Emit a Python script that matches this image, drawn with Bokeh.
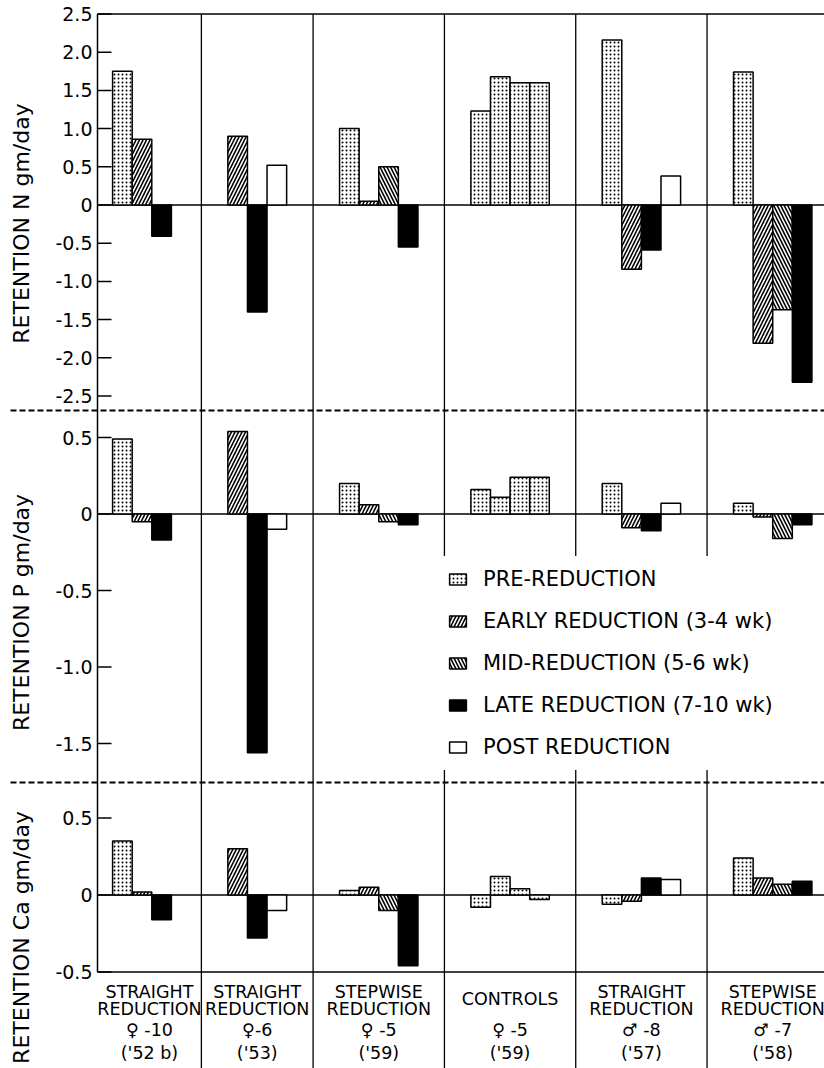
import math
from bokeh.plotting import figure
from bokeh.models import Range1d, Legend, LegendItem
from bokeh.core.properties import value
from bokeh.embed import file_html
from bokeh.resources import INLINE

# ---------------- data ----------------
phases = ["pre", "early", "mid", "late", "post"]
phase_labels = ["PRE-REDUCTION", "EARLY REDUCTION (3-4 wk)", "MID-REDUCTION (5-6 wk)",
                "LATE REDUCTION (7-10 wk)", "POST REDUCTION"]

group_line1 = ["STRAIGHT", "STRAIGHT", "STEPWISE", "", "STRAIGHT", "STEPWISE"]
group_line2 = ["REDUCTION", "REDUCTION", "REDUCTION", "", "REDUCTION", "REDUCTION"]
group_controls = ["", "", "", "CONTROLS", "", ""]
group_subject = ["\u2640 -10", "\u2640-6", "\u2640 -5", "\u2640 -5", "\u2642 -8", "\u2642 -7"]
group_year = ["('52 b)", "('53)", "('59)", "('59)", "('57)", "('58)"]

group_phases = [
    ["pre", "early", "late"],
    ["early", "late", "post"],
    ["pre", "early", "mid", "late"],
    ["pre", "pre", "pre", "pre"],
    ["pre", "early", "late", "post"],
    ["pre", "early", "mid", "late"],
]

n_values = [
    [1.75, 0.86, -0.41],
    [0.90, -1.40, 0.52],
    [1.00, 0.05, 0.50, -0.55],
    [1.23, 1.68, 1.60, 1.60],
    [2.16, -0.84, -0.59, 0.38],
    [1.74, -1.81, -1.37, -2.32],
]
p_values = [
    [0.49, -0.05, -0.17],
    [0.54, -1.56, -0.10],
    [0.20, 0.06, -0.05, -0.07],
    [0.16, 0.11, 0.24, 0.24],
    [0.20, -0.09, -0.11, 0.07],
    [0.07, -0.02, -0.16, -0.07],
]
ca_values = [
    [0.35, 0.02, -0.16],
    [0.30, -0.28, -0.10],
    [0.03, 0.05, -0.10, -0.46],
    [-0.08, 0.12, 0.04, -0.03],
    [-0.06, -0.04, 0.11, 0.10],
    [0.24, 0.11, 0.07, 0.09],
]

n_ticks = [2.5, 2.0, 1.5, 1.0, 0.5, 0, -0.5, -1.0, -1.5, -2.0, -2.5]
n_tick_labels = ["2.5", "2.0", "1.5", "1.0", "0.5", "0", "-0.5", "-1.0", "-1.5", "-2.0", "-2.5"]
p_ticks = [0.5, 0, -0.5, -1.0, -1.5]
p_tick_labels = ["0.5", "0", "-0.5", "-1.0", "-1.5"]
ca_ticks = [0.5, 0, -0.5]
ca_tick_labels = ["0.5", "0", "-0.5"]

panel_titles = ["RETENTION  N  gm/day", "RETENTION  P  gm/day", "RETENTION  Ca  gm/day"]

# ---------------- layout ----------------
W, H = 824, 1068
FONT_NAME = "DejaVu Sans"
FONT = value(FONT_NAME)
u = 19.6                 # px per bar slot
spine_px = 97
x_start = -spine_px / u
x_end = (W - spine_px) / u
left_pad = [0.77, 1.35, 1.35, 1.35, 1.35, 1.35]
right_pad = [1.53, 1.35, 1.35, 1.35, 1.35, 1.35]

panels = {
    "N": dict(zero=204.5, ppu=76.4, ticks=n_ticks, labels=n_tick_labels, vals=n_values, title_y=216),
    "P": dict(zero=513.5, ppu=153.0, ticks=p_ticks, labels=p_tick_labels, vals=p_values, title_y=605),
    "Ca": dict(zero=894.5, ppu=154.0, ticks=ca_ticks, labels=ca_tick_labels, vals=ca_values, title_y=930),
}
top_px = panels["N"]["zero"] - 2.5 * panels["N"]["ppu"]
bottom_px = panels["Ca"]["zero"] + 0.5 * panels["Ca"]["ppu"]
sep_px = [410, 782]

p = figure(width=W, height=H, x_range=Range1d(x_start, x_end), y_range=Range1d(H, 0),
           x_axis_type=None, y_axis_type=None, min_border=0, toolbar_location=None,
           output_backend="svg")
p.outline_line_color = None
p.grid.visible = False
p.extra_y_ranges = {k: Range1d((v["zero"] - H) / v["ppu"], v["zero"] / v["ppu"]) for k, v in panels.items()}

# bar x positions
bar_x = []
group_centers = []
group_edges = []
s = 0.0
for i, ph in enumerate(group_phases):
    xs = [s + left_pad[i] + k + 0.5 for k in range(len(ph))]
    bar_x.append(xs)
    e = s + left_pad[i] + len(ph) + right_pad[i]
    group_centers.append((s + e) / 2)
    group_edges.append(e)
    s = e

styles = {
    "pre": dict(fill_color="white", hatch_pattern="dot", hatch_scale=4, hatch_weight=1.3, hatch_color="black"),
    "early": dict(fill_color="white", hatch_pattern="right_diagonal_line", hatch_scale=7, hatch_weight=1.6, hatch_color="black"),
    "mid": dict(fill_color="white", hatch_pattern="left_diagonal_line", hatch_scale=7, hatch_weight=1.6, hatch_color="black"),
    "late": dict(fill_color="black"),
    "post": dict(fill_color="white"),
}

# structure lines
for gx in group_edges[:-1]:
    p.segment(x0=gx, y0=top_px, x1=gx, y1=H, line_color="black", line_width=1.3)
p.segment(x0=0, y0=top_px, x1=0, y1=bottom_px, line_color="black", line_width=1.5)
p.segment(x0=0, y0=top_px, x1=x_end, y1=top_px, line_color="black", line_width=1.5)
p.segment(x0=0, y0=bottom_px, x1=x_end, y1=bottom_px, line_color="black", line_width=1.5)
for sp in sep_px:
    p.segment(x0=(10 - spine_px) / u, y0=sp, x1=x_end, y1=sp, line_color="black",
              line_width=2, line_dash="6 3")

legend_renderers = {}
for j, (key, pan) in enumerate(panels.items()):
    # zero line
    p.segment(x0=0, y0=0, x1=x_end, y1=0, line_color="black", line_width=1.3, y_range_name=key)
    # ticks and tick labels
    p.segment(x0=[0] * len(pan["ticks"]), x1=[14 / u] * len(pan["ticks"]), y0=pan["ticks"], y1=pan["ticks"],
              line_color="black", line_width=1.5, y_range_name=key)
    p.text(x=[0] * len(pan["ticks"]), y=pan["ticks"], text=pan["labels"], x_offset=-5,
           text_align="right", text_baseline="middle", text_font=FONT, text_font_size="19px",
           text_color="black", y_range_name=key)
    # panel title
    p.text(x=[(21 - spine_px) / u], y=[pan["title_y"]], text=[panel_titles[j]], angle=math.pi / 2,
           text_align="center", text_baseline="middle", text_font=FONT, text_font_size="22px",
           text_color="black")
    # bars, one renderer per phase
    for ph in phases:
        xs, tops = [], []
        for gi, gph in enumerate(group_phases):
            for k, name in enumerate(gph):
                if name == ph:
                    xs.append(bar_x[gi][k])
                    tops.append(pan["vals"][gi][k])
        r = p.vbar(x=xs, top=tops, bottom=0, width=1.0, line_color="black", line_width=1.5,
                   y_range_name=key, **styles[ph])
        if key == "N":
            legend_renderers[ph] = r

# category labels
lab_kw = dict(text_align="center", text_baseline="middle", text_font=FONT, text_font_size="17.5px",
              text_color="black")
p.text(x=group_centers, y=[991] * 6, text=group_line1, **lab_kw)
p.text(x=group_centers, y=[1008] * 6, text=group_line2, **lab_kw)
p.text(x=group_centers, y=[998] * 6, text=group_controls, **lab_kw)
p.text(x=group_centers, y=[1029] * 6, text=group_subject, **lab_kw)
p.text(x=group_centers, y=[1052] * 6, text=group_year, **lab_kw)

legend = Legend(items=[LegendItem(label=lbl, renderers=[legend_renderers[ph]])
                       for ph, lbl in zip(phases, phase_labels)],
                location=(437, H - 770), glyph_width=21, glyph_height=14, label_height=26,
                spacing=16, padding=10, margin=0, label_standoff=15,
                label_text_font=FONT_NAME, label_text_font_size="21px", label_text_color="black",
                border_line_alpha=0, background_fill_color="white", background_fill_alpha=1.0)
p.add_layout(legend)

open("out.html", "w").write(file_html(p, INLINE))
